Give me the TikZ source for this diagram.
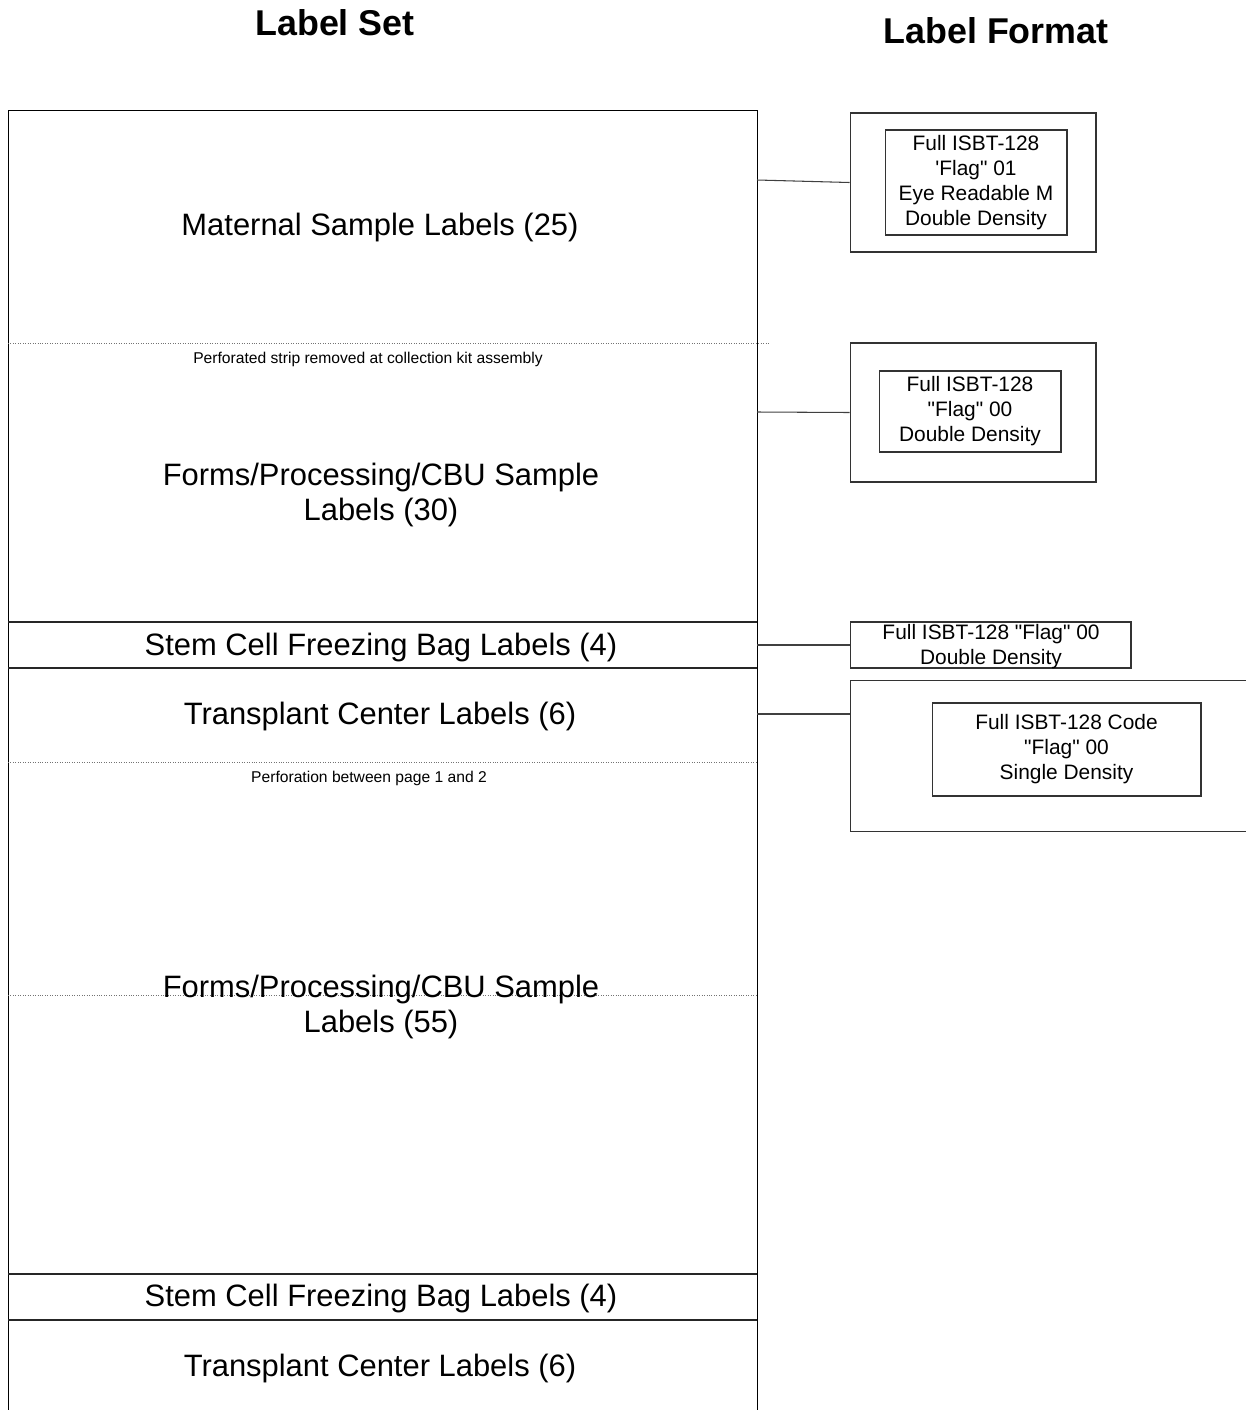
\documentclass[tikz,border=0pt]{standalone}
\usepackage{fontspec}
\setmainfont{Liberation Sans}
\usetikzlibrary{positioning}

\begin{document}
\begin{tikzpicture}[
    x=0.02cm, y=-0.02cm,
    line width=0.6pt,
    % sizes (1 unit = 1 px)
    title/.style={font=\fontsize{20.4}{24}\selectfont\bfseries},
    setlabel/.style={align=center, font=\fontsize{17.6}{20.4}\selectfont},
    perfnote/.style={font=\fontsize{8.9}{10.5}\selectfont},
    fmtouter/.style={draw=black!80, rectangle, inner sep=0pt},
    fmtinner/.style={
        draw=black!80, rectangle, inner sep=0pt,
        align=center, font=\fontsize{11.9}{14.2}\selectfont
    },
    sepline/.style={draw=black!85},
    perfline/.style={draw=black!55, line width=0.5pt, dash pattern=on 0.5pt off 0.9pt},
    link/.style={draw=black!75}
]
\clip (0,0) rectangle (1246,1410);

% Titles
\node[title] (settitle) at (335,23) {Label Set};
\node[title] (fmttitle) at (996,31) {Label Format};

% Label sheet
\node[draw, rectangle, inner sep=0pt, anchor=north west,
      minimum width=14.98cm, minimum height=26.6cm] (sheet) at (8,110) {};

\draw[perfline] (8,343) -- (770,343);
\draw[sepline] (8,622) -- (757,622);
\draw[sepline] (8,668) -- (757,668);
\draw[perfline] (8,762) -- (757,762);
\draw[perfline] (8,995) -- (757,995);
\draw[sepline] (8,1274) -- (757,1274);
\draw[sepline] (8,1320) -- (757,1320);

\node[setlabel] (maternal) at (380,228) {Maternal Sample Labels (25)};
\node[perfnote] (strip) at (368,359) {Perforated strip removed at collection kit assembly};
\node[setlabel] (formsa) at (381,495) {Forms/Processing/CBU Sample\\Labels (30)};
\node[setlabel] (bagsa) at (381,647) {Stem Cell Freezing Bag Labels (4)};
\node[setlabel] (tca) at (380,716) {Transplant Center Labels (6)};
\node[perfnote] (pagebreak) at (369,778) {Perforation between page 1 and 2};
\node[setlabel] (formsb) at (381,1007) {Forms/Processing/CBU Sample\\Labels (55)};
\node[setlabel] (bagsb) at (381,1298) {Stem Cell Freezing Bag Labels (4)};
\node[setlabel] (tcb) at (380,1368) {Transplant Center Labels (6)};

% Label formats
\node[fmtouter, minimum width=4.92cm, minimum height=2.78cm] (fmt1) at (973,182.5) {};
\node[fmtinner, minimum width=3.64cm, minimum height=2.1cm] (fmt1in) at (976,182.5)
    {Full ISBT-128\\\textquotesingle Flag\textquotedbl{} 01\\Eye Readable M\\Double Density};

\node[fmtouter, minimum width=4.92cm, minimum height=2.78cm] (fmt2) at (973,412.5) {};
\node[fmtinner, minimum width=3.64cm, minimum height=1.62cm] (fmt2in) at (970,411.5)
    {Full ISBT-128\\\textquotedbl Flag\textquotedbl{} 00\\Double Density};

\node[fmtinner, minimum width=5.62cm, minimum height=0.92cm] (fmt3) at (990.5,645) {};
\node[fmtinner, draw=none] (fmt3txt) at (991,646.5)
    {Full ISBT-128 \textquotedbl Flag\textquotedbl{} 00\\Double Density};

\node[fmtouter, minimum width=9cm, minimum height=3.02cm, anchor=north west] (fmt4) at (850,680) {};
\node[fmtinner, minimum width=5.38cm, minimum height=1.86cm] (fmt4in) at (1066.5,749.5)
    {Full ISBT-128 Code\\\textquotedbl Flag\textquotedbl{} 00\\Single Density};

% Connectors
\coordinate (matout) at (757,180);
\coordinate (formsout) at (757,412);
\coordinate (bagout) at (757,645);
\coordinate (tcout) at (757,714);

\draw[link] (matout) -- (fmt1.west);
\draw[link] (formsout) -- (fmt2.west);
\draw[link] (bagout) -- (fmt3.west);
\draw[link] (tcout) -- (tcout -| fmt4.west);

\end{tikzpicture}
\end{document}
